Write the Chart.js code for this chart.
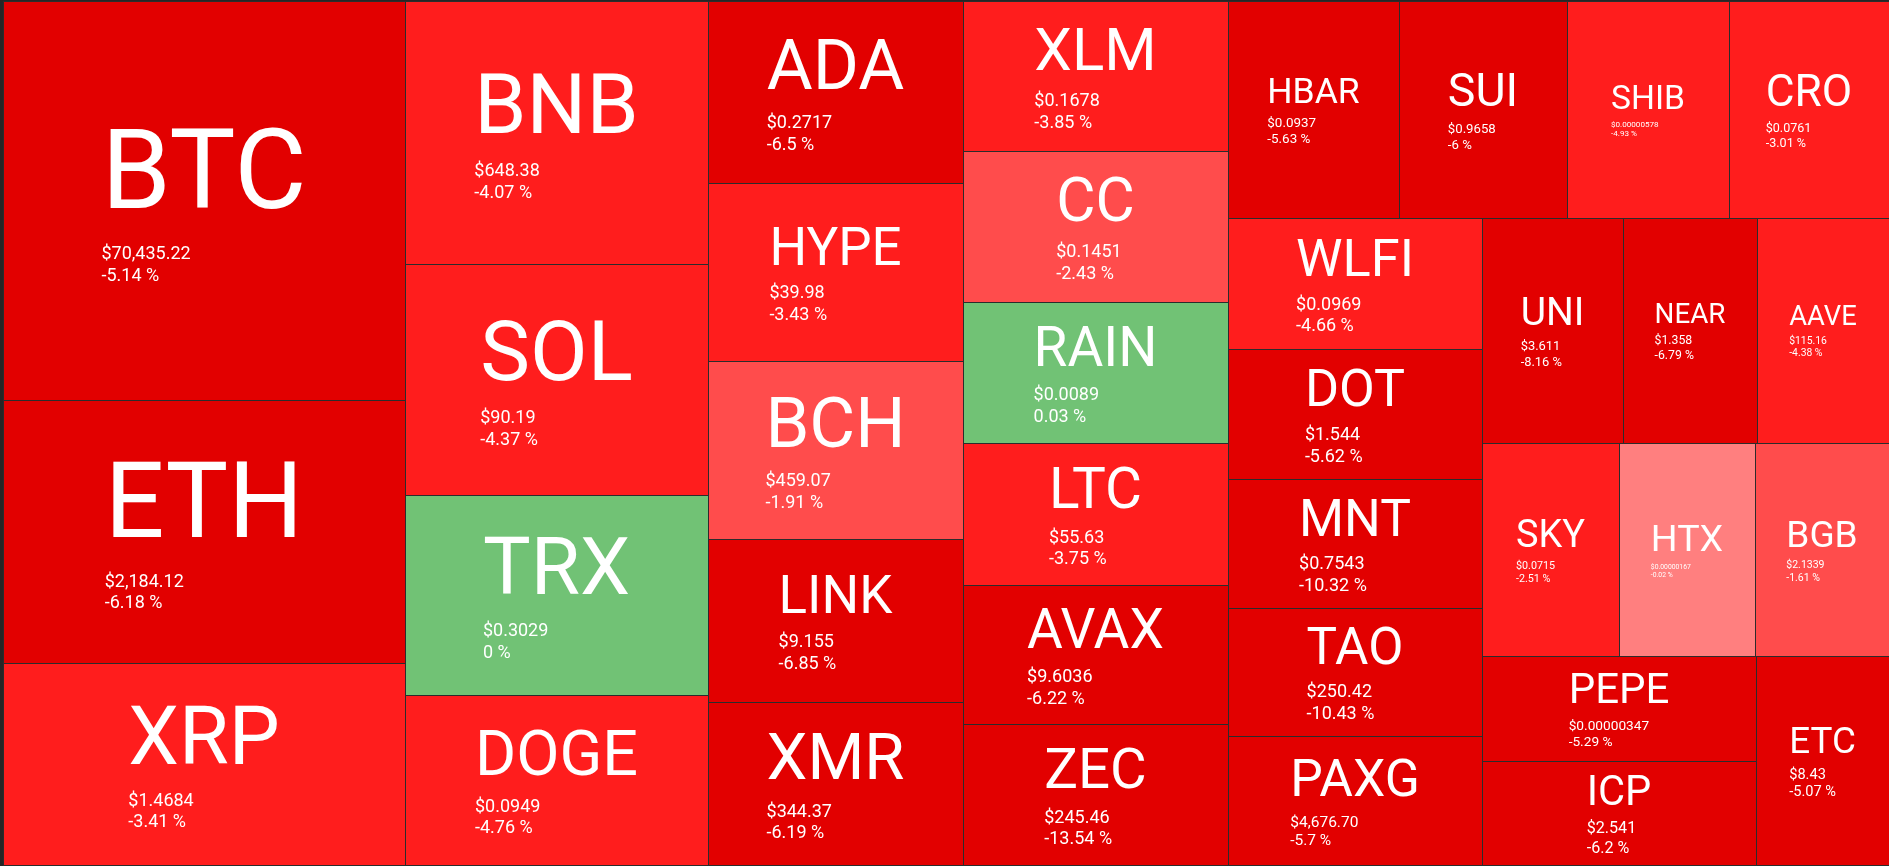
<!DOCTYPE html>
<html>
<head>
<meta charset="utf-8">
<title>Crypto heatmap</title>
<script src="https://cdn.jsdelivr.net/npm/chart.js@4.4.1/dist/chart.umd.min.js"></script>
<style>
  html, body { margin: 0; padding: 0; background: #262626; overflow: hidden; }
  #wrap { width: 100vw; height: 100vh; }
</style>
</head>
<body>
<div id="wrap"><canvas id="heatmap"></canvas></div>
<script>
// coins, in the order the treemap lays them out
var symbols = ['BTC','ETH','XRP','BNB','SOL','TRX','DOGE','ADA','HYPE','BCH','LINK','XMR',
  'XLM','CC','RAIN','LTC','AVAX','ZEC','HBAR','SUI','SHIB','CRO','WLFI','DOT','MNT','TAO',
  'PAXG','UNI','NEAR','AAVE','SKY','HTX','BGB','PEPE','ICP','ETC'];

// tile weight (area share)
var weights = [161.2,106.4,81.4,80.0,70.0,60.9,51.5,46.6,45.8,45.6,42.0,41.7,
  39.8,40.3,37.4,37.6,37.1,37.4,37.1,36.5,35.4,34.7,33.5,33.0,33.0,32.5,
  32.8,32.1,30.3,29.8,29.5,29.1,28.7,28.9,28.6,27.8];

var prices = ['$70,435.22','$2,184.12','$1.4684','$648.38','$90.19','$0.3029','$0.0949','$0.2717',
  '$39.98','$459.07','$9.155','$344.37','$0.1678','$0.1451','$0.0089','$55.63','$9.6036','$245.46',
  '$0.0937','$0.9658','$0.00000578','$0.0761','$0.0969','$1.544','$0.7543','$250.42','$4,676.70',
  '$3.611','$1.358','$115.16','$0.0715','$0.00000167','$2.1339','$0.00000347','$2.541','$8.43'];

// 24h change in %
var changes = [-5.14,-6.18,-3.41,-4.07,-4.37,0,-4.76,-6.5,-3.43,-1.91,-6.85,-6.19,
  -3.85,-2.43,0.03,-3.75,-6.22,-13.54,-5.63,-6,-4.93,-3.01,-4.66,-5.62,-10.32,-10.43,
  -5.7,-8.16,-6.79,-4.38,-2.51,-0.02,-1.61,-5.29,-6.2,-5.07];

function tileColor(c){
  if(c >= 0) return '#71c275';
  if(c > -1) return '#ff7f7f';
  if(c > -2.5) return '#ff4c4c';
  if(c > -5) return '#ff1d1d';
  return '#e20000';
}

// squarified layout (golden ratio target), rows taken in data order
function squarify(values, x0, y0, x1, y1){
  var ratio = (1 + Math.sqrt(5)) / 2;
  var out = [];
  var n = values.length, i0 = 0, i1 = 0;
  var value = values.reduce(function(a,b){ return a+b; }, 0);
  while(i0 < n){
    var dx = x1 - x0, dy = y1 - y0;
    var sum = values[i1++];
    var minV = sum, maxV = sum;
    var alpha = Math.max(dy/dx, dx/dy) / (value * ratio);
    var beta = sum * sum * alpha;
    var minRatio = Math.max(maxV/beta, beta/minV);
    for(; i1 < n; ++i1){
      var v = values[i1];
      sum += v;
      if(v < minV) minV = v;
      if(v > maxV) maxV = v;
      beta = sum * sum * alpha;
      var r = Math.max(maxV/beta, beta/minV);
      if(r > minRatio){ sum -= v; break; }
      minRatio = r;
    }
    var k, pos;
    if(dx < dy){
      var ny = i1 < n ? y0 + dy * sum / value : y1;
      pos = x0;
      for(k = i0; k < i1; k++){
        var w = dx * values[k] / sum;
        out[k] = {x0: pos, x1: k == i1-1 ? x1 : pos + w, y0: y0, y1: ny};
        pos += w;
      }
      y0 = ny;
    } else {
      var nx = i1 < n ? x0 + dx * sum / value : x1;
      pos = y0;
      for(k = i0; k < i1; k++){
        var h = dy * values[k] / sum;
        out[k] = {x0: x0, x1: nx, y0: pos, y1: k == i1-1 ? y1 : pos + h};
        pos += h;
      }
      x0 = nx;
    }
    value -= sum;
    i0 = i1;
  }
  return out;
}

var treemapPlugin = {
  id: 'treemap',
  afterDatasetsDraw: function(chart){
    var ctx = chart.ctx, area = chart.chartArea;
    var xs = chart.scales.x, ys = chart.scales.y;
    var aspect = area.width / area.height;
    var cells = squarify(weights, 0, 0, aspect, 1);

    ctx.save();
    cells.forEach(function(c, i){
      var px0 = Math.round(xs.getPixelForValue(c.x0 / aspect));
      var px1 = Math.round(xs.getPixelForValue(c.x1 / aspect));
      var py0 = Math.round(ys.getPixelForValue(c.y0));
      var py1 = Math.round(ys.getPixelForValue(c.y1));
      var w = px1 - px0, h = py1 - py0;

      ctx.fillStyle = tileColor(changes[i]);
      ctx.fillRect(px0, py0, w, h);
      ctx.strokeStyle = '#2c2c2c';
      ctx.lineWidth = 1;
      ctx.strokeRect(px0 + 0.5, py0 + 0.5, w, h);

      var sym = symbols[i];
      var chg = changes[i] + ' %';
      var F = Math.min(0.83 * w / sym.length, 0.4 * h);
      var f = Math.min(18, 0.55 * w / prices[i].length, 0.155 * h);

      ctx.font = F + 'px Roboto';
      var symW = ctx.measureText(sym).width;
      ctx.font = f + 'px Roboto';
      var smallW = Math.max(ctx.measureText(prices[i]).width, ctx.measureText(chg).width);
      var blockW = Math.max(symW, smallW);

      var cx = px0 + w / 2, cy = py0 + h / 2;
      var total = 1.1 * F + 2.3 * f;
      var left = cx - blockW / 2;
      var symBase = cy - total / 2 + 0.8 * F;
      var priceBase = symBase + 0.3 * F + f;
      var chgBase = priceBase + 1.2 * f;

      ctx.fillStyle = '#ffffff';
      ctx.textAlign = 'left';
      ctx.textBaseline = 'alphabetic';
      ctx.font = F + 'px Roboto';
      ctx.fillText(sym, left, symBase);
      ctx.font = f + 'px Roboto';
      ctx.fillText(prices[i], left, priceBase);
      ctx.fillText(chg, left, chgBase);
    });
    ctx.restore();
  }
};

var heatmap = new Chart(document.getElementById('heatmap'), {
  type: 'scatter',
  data: {
    labels: symbols,
    datasets: [{ label: 'Market', data: [], pointRadius: 0 }]
  },
  options: {
    responsive: true,
    maintainAspectRatio: false,
    animation: false,
    layout: { padding: { left: 3, top: 1, bottom: 1, right: 0 } },
    plugins: { legend: { display: false }, tooltip: { enabled: false } },
    scales: {
      x: { type: 'linear', min: 0, max: 1, display: false },
      y: { type: 'linear', min: 0, max: 1, reverse: true, display: false }
    }
  },
  plugins: [treemapPlugin]
});
</script>
</body>
</html>
